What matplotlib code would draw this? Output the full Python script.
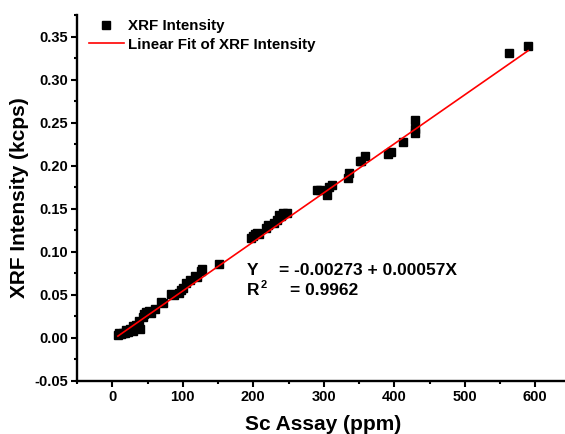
import numpy as np
import matplotlib
matplotlib.use("Agg")
import matplotlib.pyplot as plt
from matplotlib.ticker import MultipleLocator, FormatStrFormatter

# --- datos ---
sc_ppm = [8, 10, 12, 15, 18, 20, 22, 25, 29, 30, 33, 36, 38.5, 40, 43, 45, 48, 52, 55, 60,
          69, 72, 83, 88, 95, 98, 100, 105, 110, 117, 120, 126, 128, 152,
          197, 200, 202, 205, 208, 218, 221, 230, 234, 237, 240, 242, 248,
          291, 295, 305, 308, 312, 335, 336, 351, 353, 358, 391, 395, 413,
          430, 430, 430, 563, 590]
xrf_kcps = [0.003, 0.005, 0.004, 0.006, 0.005, 0.009, 0.007, 0.010, 0.013, 0.008, 0.015, 0.012, 0.019, 0.010, 0.024, 0.027, 0.030, 0.031, 0.029, 0.033,
            0.042, 0.040, 0.051, 0.050, 0.052, 0.055, 0.058, 0.064, 0.067, 0.072, 0.070, 0.078, 0.080, 0.086,
            0.116, 0.118, 0.121, 0.122, 0.120, 0.127, 0.131, 0.133, 0.137, 0.142, 0.141, 0.145, 0.145,
            0.172, 0.172, 0.166, 0.175, 0.177, 0.186, 0.191, 0.205, 0.205, 0.211, 0.214, 0.216, 0.227,
            0.253, 0.243, 0.238, 0.331, 0.339]
intercept, slope = -0.00273, 0.00057
r2 = 0.9962

plt.rcParams['font.family'] = ['Liberation Sans', 'DejaVu Sans']
plt.rcParams['font.weight'] = 'bold'

W, H = 565, 434
fig = plt.figure(figsize=(W/100, H/100), dpi=100)
# ejes: x=-50 en px 77, 70.5 px por 100 ppm; y de -0.05 (px 380.7) a 0.375 (px 15)
ax = fig.add_axes([77/W, 1-380.7/H, 750*0.705/W, (380.7-15)/H])

ax.plot(sc_ppm, xrf_kcps, ls='none', marker='s', ms=5.2, color='black', label='XRF Intensity')
xf = np.array([min(sc_ppm), max(sc_ppm)])
ax.plot(xf, intercept + slope*xf, color='#ff0000', lw=1.2, label='Linear Fit of XRF Intensity')

ax.set_xlim(-50, 700)
ax.set_ylim(-0.05, 0.375)
ax.xaxis.set_major_locator(MultipleLocator(100))
ax.xaxis.set_minor_locator(MultipleLocator(50))
ax.yaxis.set_major_locator(MultipleLocator(0.05))
ax.yaxis.set_minor_locator(MultipleLocator(0.025))
ax.yaxis.set_major_formatter(FormatStrFormatter('%.2f'))
ax.set_xticks([0, 100, 200, 300, 400, 500, 600])
for s in ['top', 'right']:
    ax.spines[s].set_visible(False)
for s in ['left', 'bottom']:
    ax.spines[s].set_linewidth(1.7)
ax.tick_params(which='major', direction='out', length=4, width=1.5, labelsize=10.5, pad=2.5)
ax.tick_params(which='minor', direction='out', length=2.5, width=1.5)
for lab in ax.get_xticklabels() + ax.get_yticklabels():
    lab.set_fontweight('bold')

fig.text(323.5/W, 1-424/H, 'Sc Assay (ppm)', ha='center', va='center', fontsize=15, fontweight='bold')
fig.text(20/W, 1-197.5/H, 'XRF Intensity (kcps)', ha='center', va='center', rotation=90,
         fontsize=15, fontweight='bold')
# titulo recortado arriba (solo se ven los descendentes)
fig.text(291.5/W, 1+4/H, 'Sc Assay (ppm)', ha='center', va='baseline', fontsize=15, fontweight='bold')

ax.legend(loc='upper left', bbox_to_anchor=(89/W, 1-19/H), bbox_transform=fig.transFigure,
          frameon=False, borderpad=0, borderaxespad=0, handlelength=2.3,
          handletextpad=0.3, labelspacing=0.3, numpoints=1, prop={'weight': 'bold', 'size': 10.9})

fs_eq = 12.5
fig.text(246.5/W, 1-270.5/H, 'Y', ha='left', va='center', fontsize=fs_eq, fontweight='bold')
fig.text(279/W, 1-270.5/H, f'= {intercept:.5f} + {slope:.5f}X', ha='left', va='center',
         fontsize=fs_eq, fontweight='bold')
fig.text(246.5/W, 1-290.5/H, 'R', ha='left', va='center', fontsize=fs_eq, fontweight='bold')
fig.text(260.5/W, 1-285.5/H, '2', ha='left', va='center', fontsize=8, fontweight='bold')
fig.text(290/W, 1-290.5/H, f'= {r2:.4f}', ha='left', va='center', fontsize=fs_eq, fontweight='bold')

fig.savefig('out.png', dpi=100)
